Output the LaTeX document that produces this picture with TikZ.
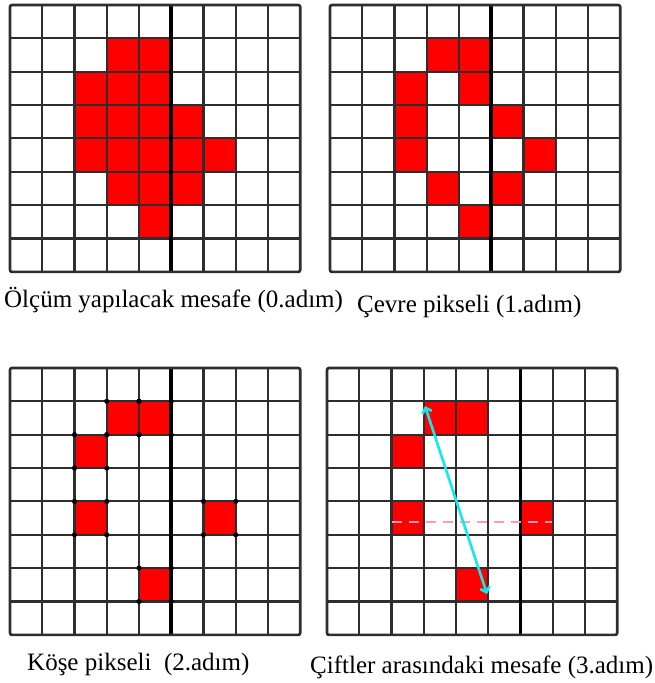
\documentclass[tikz,border=0pt]{standalone}
\usepackage{fontspec}
\setmainfont{Liberation Serif}
\usetikzlibrary{arrows.meta}
\definecolor{pixred}{HTML}{FF0000}
\definecolor{gridgrey}{HTML}{2E2E2E}
\definecolor{distcyan}{HTML}{12E8EE}
\definecolor{dashpink}{HTML}{FF9AB8}

\def\cw{32.25}
\def\ch{33.35}

% 9x8 pixel grid: origin x, origin y, thick column
\newcommand{\pixgrid}[3]{%
  \begin{scope}[shift={(#1,#2)}]
    \foreach \i in {0,...,9}
      \draw[gridline] (\i*\cw,0) -- (\i*\cw,8*\ch);
    \foreach \j in {0,...,8}
      \draw[gridline] (0,\j*\ch) -- (9*\cw,\j*\ch);
    \draw[thickline] (#3*\cw,0) -- (#3*\cw,8*\ch);
    \draw[frame] (0,0) rectangle (9*\cw,8*\ch);
  \end{scope}}

% red pixels: origin x, origin y, list of col/row
\newcommand{\pixels}[3]{%
  \begin{scope}[shift={(#1,#2)}]
    \foreach \c/\r in {#3}
      \draw[pix] (\c*\cw,\r*\ch) rectangle ++(\cw,\ch);
  \end{scope}}

\begin{document}
\begin{tikzpicture}[x=1pt, y=-1pt,
  gridline/.style={draw=gridgrey, line width=2.1pt},
  thickline/.style={draw=black, line width=3.6pt},
  frame/.style={draw=gridgrey, line width=2.6pt, rounded corners=2pt},
  pix/.style={fill=pixred, draw=black, line width=1pt},
  cdot/.style={fill=black},
  caption/.style={anchor=base west, font=\fontsize{25}{28}\selectfont, inner sep=0pt},
  distline/.style={draw=distcyan, line width=2.6pt, {Straight Barb[length=5pt]}-{Straight Barb[length=5pt]}},
  levelline/.style={draw=dashpink, line width=1.3pt, dash pattern=on 10pt off 7pt}]

  \useasboundingbox[fill=white] (0,0) rectangle (655,683);

  % 0. adim
  \pixels{10}{5}{3/1,4/1,2/2,3/2,4/2,2/3,3/3,4/3,5/3,2/4,3/4,4/4,5/4,6/4,3/5,4/5,5/5,4/6}
  \pixgrid{10}{5}{5}
  \node[caption] (cap0) at (4,307) {Ölçüm yapılacak mesafe (0.adım)};

  % 1. adim
  \pixels{330}{5}{3/1,4/1,2/2,4/2,2/3,5/3,2/4,6/4,3/5,5/5,4/6}
  \pixgrid{330}{5}{5}
  \node[caption] (cap1) at (357,312) {Çevre pikseli (1.adım)};

  % 2. adim
  \pixels{10}{368}{3/1,4/1,2/2,2/4,6/4,4/6}
  \pixgrid{10}{368}{5}
  \begin{scope}[shift={(10,368)}]
    \foreach \c/\r in {3/1,4/1,2/2,2/4,6/4,4/6}
      \foreach \dc/\dr in {0/0,1/0,0/1,1/1}
        \fill[cdot] ({(\c+\dc)*\cw},{(\r+\dr)*\ch}) circle (2.6pt);
  \end{scope}
  \node[caption] (cap2) at (27,670) {Köşe pikseli~ (2.adım)};

  % 3. adim
  \pixels{327}{368}{3/1,4/1,2/2,2/4,6/4,4/6}
  \pixgrid{327}{368}{6}
  \coordinate (pa) at (425,406);
  \coordinate (pb) at (487,594);
  \coordinate (la) at (391.5,522);
  \coordinate (lb) at (552,522);
  \draw[levelline] (la) -- (lb);
  \draw[distline] (pa) -- (pb);
  \node[caption] (cap3) at (310,673) {Çiftler arasındaki mesafe (3.adım)};
\end{tikzpicture}
\end{document}
